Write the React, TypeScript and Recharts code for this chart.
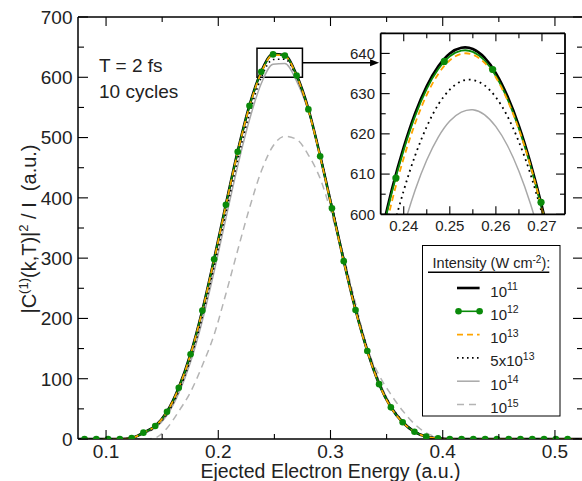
import React from "react";
import { LineChart, Line, XAxis, YAxis, ReferenceArea, ReferenceLine, Legend, CartesianGrid } from "recharts";

const FONT = '"Liberation Sans", Arial, Helvetica, sans-serif';
const GREEN = "#0a8a0a";
const ORANGE = "#ffa500";
const GRAY14 = "#a8a8a8";
const GRAY15 = "#b4b4b4";

// main panel: ejected electron energy (a.u.) and |C(1)(k,T)|^2 / I for each intensity
const energy = [0.0703, 0.0808, 0.0913, 0.1018, 0.1123, 0.1228, 0.1333, 0.1438, 0.1543, 0.1648, 0.1753, 0.1858, 0.1963, 0.2068, 0.2173, 0.2278, 0.2383, 0.2488, 0.2593, 0.2698, 0.2803, 0.2908, 0.3013, 0.3118, 0.3223, 0.3328, 0.3433, 0.3538, 0.3643, 0.3748, 0.3853, 0.3958, 0.4063, 0.4168, 0.4273, 0.4378, 0.4483, 0.4588, 0.4693, 0.4798, 0.4903, 0.5008, 0.5113, 0.5218, 0.5323];
const i11 = [0, 0, 0, 0, 0, 1.8, 10.6, 21.7, 45.3, 85.4, 141, 213.5, 298.6, 389.3, 477.2, 553.4, 609.7, 638.7, 636.5, 603.6, 547.4, 469.6, 383.2, 295.5, 214.4, 146.3, 91.2, 52.6, 27.8, 12, 4, 1, 0, 0, 0, 0, 0, 0, 0, 0, 0, 0, 0, 0, 0];
const i12 = [null, 0, 0, 0, 0, 1.7, 10.5, 21.5, 45, 85, 140.5, 213, 298, 388.6, 476.5, 552.7, 609, 638, 636, 603, 546.7, 469, 382.6, 295, 214, 146, 91, 52.5, 27.7, 12, 4, 1, 0, 0, 0, 0, 0, 0, 0, 0, 0, 0, 0, null, null];
const i13 = [0, 0, 0, 0, 0, 1.7, 10.5, 21.4, 44.9, 84.8, 140.2, 212.6, 297.4, 387.9, 475.6, 551.6, 607.8, 637.2, 635.2, 602.3, 545.6, 468.1, 381.9, 294.4, 213.6, 145.7, 90.8, 52.4, 27.6, 12, 4, 1, 0, 0, 0, 0, 0, 0, 0, 0, 0, 0, 0, 0, 0];
const i5x13 = [0, 0, 0, 0, 0, 1.2, 9.5, 19.7, 41.5, 79.5, 132.8, 203, 286.1, 375.5, 463.1, 539.8, 599.7, 629.4, 630.1, 600.5, 546.6, 471.1, 386.2, 299.4, 218.4, 150.1, 94.3, 54.8, 29.3, 12.9, 4.4, 1.5, 0, 0, 0, 0, 0, 0, 0, 0, 0, 0, 0, 0, 0];
const i14 = [0, 0, 0, 0, 0, 1, 8.8, 18.4, 39.2, 75.8, 127.6, 196.2, 277.8, 366, 452.9, 529.6, 589.7, 621.5, 622.8, 593.6, 543.7, 470, 386.4, 300.4, 220, 151.7, 95.8, 55.9, 30, 13.5, 4.7, 1.3, 0, 0, 0, 0, 0, 0, 0, 0, 0, 0, 0, 0, 0];
const i15 = [0, 0, 0, 0, 0, 0, 0, 2, 18, 46, 78, 122, 173, 241, 313, 383, 444, 486, 502, 497, 471, 432, 371, 302, 225, 150, 106, 74, 47, 25, 10, 3, 0, 0, 0, 0, 0, 0, 0, 0, 0, 0, 0, 0, 0];

const rows = energy.map((e, k) => ({ e, i11: i11[k], i12: i12[k], i13: i13[k], i5x13: i5x13[k], i14: i14[k], i15: i15[k] }));

// inset: zoom on the peak
const insetEnergy = [0.235, 0.2375, 0.24, 0.2425, 0.245, 0.2475, 0.25, 0.2525, 0.255, 0.2575, 0.26, 0.2625, 0.265, 0.2675, 0.27, 0.2725, 0.275];
const inset11 = [594.5, 606.5, 616.7, 625.2, 631.9, 636.8, 640.0, 641.4, 641.1, 639.0, 635.1, 629.4, 622.0, 612.8, 601.9, 589.2, 574.8];
const inset12 = [593.8, 605.8, 616.0, 624.5, 631.2, 636.1, 639.3, 640.7, 640.4, 638.3, 634.4, 628.7, 621.3, 612.1, 601.2, 588.5, 574.1];
const inset13 = [591.2, 603.5, 614.0, 622.7, 629.7, 634.9, 638.3, 639.9, 639.7, 637.7, 634.0, 628.4, 621.1, 612.1, 601.2, 588.5, 574.1];
const inset5x13 = [583.2, 595.4, 605.9, 614.7, 621.8, 627.3, 631.0, 633.1, 633.4, 632.1, 629.1, 624.4, 618.0, 610.0, 600.2, 588.8, 575.7];
const inset14 = [573.3, 586.0, 596.9, 606.1, 613.5, 619.2, 623.2, 625.4, 626.0, 624.8, 621.8, 617.1, 610.7, 602.6, 592.7, 581.1, 567.8];

const insetRows = insetEnergy.map((e, k) => ({ e, i11: inset11[k], i12: inset12[k], i13: inset13[k], i5x13: inset5x13[k], i14: inset14[k] }));
const insetMarkers = rows.filter((r) => r.e > 0.235 && r.e < 0.275 && r.i12 != null).map((r) => ({ e: r.e, i12: r.i12 }));

const xTicks = [0.1, 0.15, 0.2, 0.25, 0.3, 0.35, 0.4, 0.45, 0.5];
const xMajor = [0.1, 0.2, 0.3, 0.4, 0.5];
const yTicks = [0, 50, 100, 150, 200, 250, 300, 350, 400, 450, 500, 550, 600, 650, 700];
const yMajor = [0, 100, 200, 300, 400, 500, 600, 700];
const insetXTicks = [0.24, 0.245, 0.25, 0.255, 0.26, 0.265, 0.27];
const insetXMajor = [0.24, 0.25, 0.26, 0.27];
const insetYTicks = [600, 605, 610, 615, 620, 625, 630, 635, 640, 645];
const insetYMajor = [600, 610, 620, 630, 640];

const legendBase = ["10", "10", "10", "5x10", "10", "10"];
const legendExp = ["11", "12", "13", "13", "14", "15"];
const legendStyle = [
  { stroke: "#000", width: 2.6, dash: undefined, dots: false },
  { stroke: GREEN, width: 1.6, dash: undefined, dots: true },
  { stroke: ORANGE, width: 1.6, dash: "6 4", dots: false },
  { stroke: "#000", width: 1.6, dash: "1.6 3.4", dots: false },
  { stroke: GRAY14, width: 1.5, dash: undefined, dots: false },
  { stroke: GRAY15, width: 1.5, dash: "7 5", dots: false },
];

type Side = "bottom" | "top" | "left" | "right";

// inward tick marks, long for major values, short for minor ones; labels only on bottom/left majors
function makeTick(side: Side, major: number[], big: number, small: number, fmt?: (v: number) => string, fontSize = 19, gap = 5) {
  return (p: any) => {
    const x = Number(p.x);
    const y = Number(p.y);
    const v = Number(p.payload?.value);
    const isMajor = major.some((m) => Math.abs(m - v) < 1e-6);
    const len = isMajor ? big : small;
    const ln =
      side === "bottom" ? [x, y, x, y - len] :
      side === "top" ? [x, y, x, y + len] :
      side === "left" ? [x, y, x + len, y] : [x, y, x - len, y];
    return (
      <g>
        <line x1={ln[0]} y1={ln[1]} x2={ln[2]} y2={ln[3]} stroke="#000" strokeWidth={1.1} />
        {isMajor && fmt && side === "bottom" && (
          <text x={x} y={y + gap + fontSize * 0.72} textAnchor="middle" fontSize={fontSize} fontFamily={FONT} fill="#222">
            {fmt(v)}
          </text>
        )}
        {isMajor && fmt && side === "left" && (
          <text x={x - gap} y={y + fontSize * 0.36} textAnchor="end" fontSize={fontSize} fontFamily={FONT} fill="#222">
            {fmt(v)}
          </text>
        )}
      </g>
    );
  };
}

const ArrowShape = (p: any) => {
  const { x1, y1, x2, y2 } = p;
  return (
    <g>
      <line x1={x1} y1={y1} x2={x2 - 6} y2={y2} stroke="#000" strokeWidth={1.5} />
      <polygon points={`${x2},${y2} ${x2 - 9},${y2 - 3.5} ${x2 - 9},${y2 + 3.5}`} fill="#000" />
    </g>
  );
};

const LegendBox = () => (
  <svg width={139} height={172} style={{ display: "block" }} fontFamily={FONT}>
    <rect x={0.5} y={0.5} width={137.5} height={170.5} fill="#fff" stroke="#000" strokeWidth={1} />
    <text x={10.6} y={23} fontSize={14.5} fill="#222">
      Intensity (W cm<tspan dy={-5.5} fontSize={10}>-2</tspan><tspan dy={5.5}>):</tspan>
    </text>
    <line x1={6} x2={127.3} y1={27.3} y2={27.3} stroke="#000" strokeWidth={1.5} />
    {legendBase.map((b, i) => {
      const cy = 43 + i * 23.3;
      const s = legendStyle[i];
      return (
        <g key={i}>
          <line x1={35} x2={57.6} y1={cy} y2={cy} stroke={s.stroke} strokeWidth={s.width} strokeDasharray={s.dash} />
          {s.dots && <circle cx={36.5} cy={cy} r={3.3} fill={GREEN} />}
          {s.dots && <circle cx={57.6} cy={cy} r={3.3} fill={GREEN} />}
          <text x={68.3} y={cy + 8.5} fontSize={15} fill="#222">
            {b}
            <tspan dy={-6.5} fontSize={10.5}>{legendExp[i]}</tspan>
          </text>
        </g>
      );
    })}
  </svg>
);

const frame = { stroke: "#000", strokeWidth: 1.5 };
const insetFrame = { stroke: "#000", strokeWidth: 1.8 };

export default function App() {
  return (
    <div style={{ position: "relative", width: 582, height: 481, overflow: "hidden", background: "#fff", fontFamily: FONT }}>
      <style>{"body{margin:0;background:#fff}"}</style>
      <div style={{ position: "absolute", left: 0, top: 0 }}>
        <LineChart width={590} height={481} data={rows} margin={{ top: 16, right: 6, bottom: 0, left: 0 }}>
          <XAxis dataKey="e" type="number" domain={[0.075, 0.525]} allowDataOverflow ticks={xTicks} interval={0} height={42}
            tickSize={0} tickMargin={0} tickLine={false} axisLine={frame}
            tick={makeTick("bottom", xMajor, 9, 5, (v) => v.toFixed(1), 19, 5)} />
          <XAxis xAxisId="top" orientation="top" dataKey="e" type="number" domain={[0.075, 0.525]} allowDataOverflow ticks={xTicks} interval={0} height={1}
            tickSize={0} tickMargin={0} tickLine={false} axisLine={frame}
            tick={makeTick("top", xMajor, 9, 5)} />
          <YAxis type="number" domain={[0, 700]} allowDataOverflow ticks={yTicks} interval={0} width={78}
            tickSize={0} tickMargin={0} tickLine={false} axisLine={frame}
            tick={makeTick("left", yMajor, 10, 6, (v) => String(v), 19, 5.5)} />
          <YAxis yAxisId="right" orientation="right" type="number" domain={[0, 700]} allowDataOverflow ticks={yTicks} interval={0} width={1}
            tickSize={0} tickMargin={0} tickLine={false} axisLine={frame}
            tick={makeTick("right", yMajor, 10, 6)} />
          <Line dataKey="i15" type="monotone" stroke={GRAY15} strokeWidth={1.5} strokeDasharray="7 5" dot={false} activeDot={false} isAnimationActive={false} />
          <Line dataKey="i14" type="monotone" stroke={GRAY14} strokeWidth={1.5} dot={false} activeDot={false} isAnimationActive={false} />
          <Line dataKey="i5x13" type="monotone" stroke="#000" strokeWidth={1.6} strokeDasharray="1.6 3.4" dot={false} activeDot={false} isAnimationActive={false} />
          <Line dataKey="i11" type="monotone" stroke="#000" strokeWidth={2.6} dot={false} activeDot={false} isAnimationActive={false} />
          <Line dataKey="i12" type="monotone" stroke={GREEN} strokeWidth={1.6} dot={{ r: 3.3, fill: GREEN, stroke: GREEN, strokeWidth: 0 }} activeDot={false} isAnimationActive={false} />
          <Line dataKey="i13" type="monotone" stroke={ORANGE} strokeWidth={1.6} strokeDasharray="6 4" dot={false} activeDot={false} isAnimationActive={false} />
          <ReferenceArea x1={0.2345} x2={0.275} y1={600} y2={648} fill="none" fillOpacity={0} stroke="#000" strokeWidth={1.5} />
          <ReferenceLine segment={[{ x: 0.275, y: 624 }, { x: 0.3433, y: 624 }]} shape={ArrowShape} ifOverflow="visible" />
          <Legend layout="horizontal" verticalAlign="middle" align="center"
            wrapperStyle={{ left: 421.7, top: 245, width: 139, height: 172 }}
            content={() => <LegendBox />} />
        </LineChart>
      </div>
      <div style={{ position: "absolute", left: 0, top: 0 }}>
        <LineChart width={590} height={481} data={insetRows} margin={{ top: 32.3, right: 24, bottom: 0, left: 0 }}>
          <CartesianGrid fill="#fff" stroke="none" horizontal={false} vertical={false} />
          <XAxis dataKey="e" type="number" domain={[0.235, 0.275]} allowDataOverflow ticks={insetXTicks} interval={0} height={266.7}
            tickSize={0} tickMargin={0} tickLine={false} axisLine={insetFrame}
            tick={makeTick("bottom", insetXMajor, 8, 5, (v) => v.toFixed(2), 15, 6)} />
          <XAxis xAxisId="top" orientation="top" dataKey="e" type="number" domain={[0.235, 0.275]} allowDataOverflow ticks={insetXTicks} interval={0} height={1}
            tickSize={0} tickMargin={0} tickLine={false} axisLine={insetFrame}
            tick={makeTick("top", insetXMajor, 8, 5)} />
          <YAxis type="number" domain={[600, 645]} allowDataOverflow ticks={insetYTicks} interval={0} width={380.7}
            tickSize={0} tickMargin={0} tickLine={false} axisLine={insetFrame}
            tick={makeTick("left", insetYMajor, 9, 5, (v) => String(v), 15, 5.7)} />
          <YAxis yAxisId="right" orientation="right" type="number" domain={[600, 645]} allowDataOverflow ticks={insetYTicks} interval={0} width={1}
            tickSize={0} tickMargin={0} tickLine={false} axisLine={insetFrame}
            tick={makeTick("right", insetYMajor, 9, 5)} />
          <Line dataKey="i14" type="natural" stroke={GRAY14} strokeWidth={1.5} dot={false} activeDot={false} isAnimationActive={false} />
          <Line dataKey="i5x13" type="natural" stroke="#000" strokeWidth={1.8} strokeDasharray="1.8 3.9" dot={false} activeDot={false} isAnimationActive={false} />
          <Line dataKey="i11" type="natural" stroke="#000" strokeWidth={2.6} dot={false} activeDot={false} isAnimationActive={false} />
          <Line dataKey="i12" type="natural" stroke={GREEN} strokeWidth={1.8} dot={false} activeDot={false} isAnimationActive={false} />
          <Line data={insetMarkers} dataKey="i12" type="linear" stroke="none" dot={{ r: 3.6, fill: GREEN, stroke: GREEN, strokeWidth: 0 }} activeDot={false} isAnimationActive={false} />
          <Line dataKey="i13" type="natural" stroke={ORANGE} strokeWidth={1.8} strokeDasharray="6 4" dot={false} activeDot={false} isAnimationActive={false} />
        </LineChart>
      </div>
      <svg width={582} height={481} style={{ position: "absolute", left: 0, top: 0, pointerEvents: "none" }} fontFamily={FONT}>
        <text x={99} y={72} fontSize={19} fill="#222">T = 2 fs</text>
        <text x={99} y={98} fontSize={19} fill="#222">10 cycles</text>
        <text x={330.5} y={478} fontSize={19.5} textAnchor="middle" fill="#222">Ejected Electron Energy (a.u.)</text>
        <text transform="translate(36,229) rotate(-90)" textAnchor="middle" fontSize={20} fill="#222" style={{ whiteSpace: "pre" }}>
          |C<tspan dy={-8} fontSize={13}>(1)</tspan>
          <tspan dy={8}>(k,T)|</tspan>
          <tspan dy={-8} fontSize={13}>2</tspan>
          <tspan dy={8}>{" / I  (a.u.)"}</tspan>
        </text>
      </svg>
    </div>
  );
}
